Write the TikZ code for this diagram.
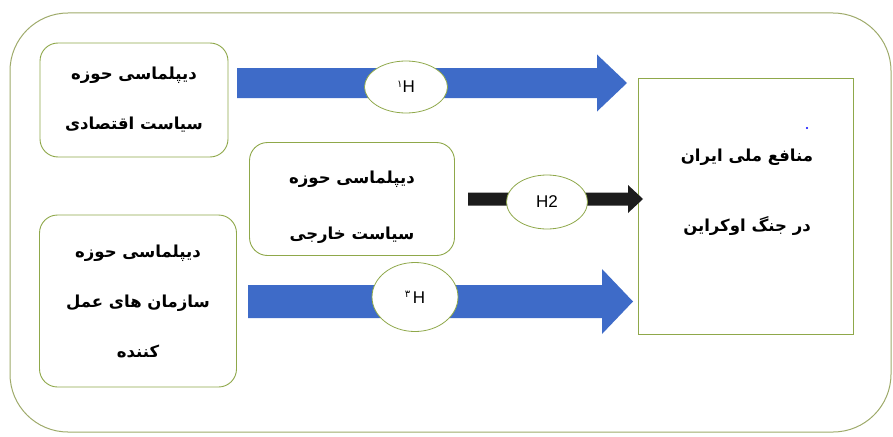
\documentclass[tikz,border=0pt]{standalone}
\usepackage{fontspec}
\setmainfont{Liberation Sans}
\newfontfamily\farsi[Script=Arabic]{DejaVu Sans}
\TeXXeTstate=1
\usetikzlibrary{calc,shapes.geometric}
\definecolor{frame}{HTML}{8FA84A}
\definecolor{outer}{HTML}{9EAA6A}
\definecolor{flow}{HTML}{3E6BC8}
\definecolor{ink}{HTML}{1C1C1C}
\newcommand{\fa}[1]{\beginR #1\endR}
% block arrow: colour, tail, tip, shaft half height, head half height, head length
\newcommand{\blockarrow}[6]{%
  \fill[#1] ($(#2)+(0,-#4)$) -- ($(#3)+(-#6,-#4)$) -- ($(#3)+(-#6,-#5)$) -- (#3)
    -- ($(#3)+(-#6,#5)$) -- ($(#3)+(-#6,#4)$) -- ($(#2)+(0,#4)$) -- cycle;}

\begin{document}
\begin{tikzpicture}
    [x=1pt, y=-1pt,
     Field box/.style={draw=frame, line width=0.9pt, rounded corners=18pt, fill=white,
        align=center, font=\farsi\bfseries\fontsize{16.5}{50}\selectfont, inner sep=0pt},
     Hyp/.style={ellipse, draw=frame, line width=0.8pt, fill=white, inner sep=0pt,
        font=\fontsize{17}{19}\selectfont},
    ]
\useasboundingbox (0,0) rectangle (893,436);
\draw[outer, line width=1pt, rounded corners=58pt] (10,13) rectangle (891,432);

%domains of diplomacy
\node[Field box, minimum width=188pt, minimum height=114pt] (eco) at (134,100)
    {\fa{دیپلماسی حوزه}\\\fa{سیاست اقتصادی}};
\node[Field box, minimum width=205pt, minimum height=113pt] (frn) at (352,199)
    {\fa{\rule{0pt}{30pt}دیپلماسی حوزه}\\[6pt]\fa{سیاست خارجی}};
\node[Field box, minimum width=197pt, minimum height=172pt] (org) at (138,301)
    {\fa{دیپلماسی حوزه}\\\fa{سازمان های عمل}\\\fa{کننده}};

%national interests
\node[draw=frame, line width=0.9pt, fill=white, minimum width=215pt, minimum height=256pt] (nat) at (745.5,206) {};
\node[font=\farsi\bfseries\fontsize{16.5}{50}\selectfont, align=center] (natText) at (747,192)
    {\fa{منافع ملی ایران}\\[20pt]\fa{در جنگ اوکراین}};
\fill[blue] (807,128) circle[radius=1.2pt];

%hypotheses
\coordinate (a) at (237,83);
\coordinate (b) at (627,83);
\coordinate (c) at (468,199);
\coordinate (d) at (643,199);
\coordinate (e) at (248,301.5);
\coordinate (f) at (633,301.5);

\blockarrow{flow}{a}{b}{15}{28.5}{30}
\blockarrow{ink}{c}{d}{6.5}{14}{15}
\blockarrow{flow}{e}{f}{16.5}{32.5}{31}

\node[Hyp, minimum width=83pt, minimum height=52pt] (h1) at (406,87)
    {\raisebox{5pt}{\farsi\normalsize ۱}H};
\node[Hyp, minimum width=81pt, minimum height=54pt] (h2) at (547,202) {H2};
\node[Hyp, minimum width=86pt, minimum height=69pt] (h3) at (415,297)
    {\raisebox{6pt}{\farsi\normalsize ۳}\,H};

\end{tikzpicture}
\end{document}
